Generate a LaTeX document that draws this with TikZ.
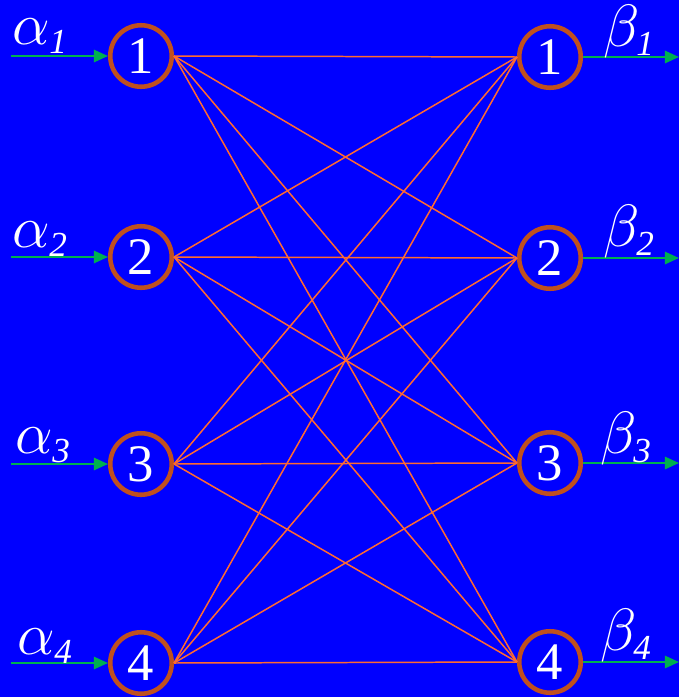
\documentclass[tikz,border=0pt]{standalone}
\usepackage{fix-cm}
\usepackage{fontspec}
\setmainfont{Liberation Serif}
\usetikzlibrary{arrows.meta, positioning}
\definecolor{bgBlue}{HTML}{0000FF}
\definecolor{ringBrown}{HTML}{C0501E}
\definecolor{wireOrange}{HTML}{FF6A30}
\definecolor{feedGreen}{HTML}{00B050}
\newcommand{\subdig}[1]{\mbox{\fontsize{20}{22}\selectfont\itshape #1}}
\tikzset{
  unit/.style  = {circle, draw=ringBrown, line width=2.6pt, minimum size=1.23cm,
                  inner sep=0pt, text=white, font=\rmfamily\fontsize{30}{32}\selectfont},
  wire/.style  = {wireOrange, line width=0.85pt},
  feed/.style  = {-{Triangle[length=8pt,width=7pt]}, feedGreen, line width=1.1pt},
  sym/.style   = {text=white, inner sep=0pt, font=\fontsize{34}{38}\selectfont},
}

\begin{document}
\begin{tikzpicture}[x=0.02cm, y=-0.02cm]
  \fill[bgBlue] (0,0) rectangle (679,697);
  \useasboundingbox (0,0) rectangle (679,697);
  \foreach \i/\yl/\yr in {1/56/57, 2/257/258, 3/464/463, 4/663/662} {
    \node[unit] (L\i) at (141,\yl) {\i};
    \node[unit] (R\i) at (550,\yr) {\i};
    \coordinate (in\i) at (11,\yl);
    \coordinate (out\i) at (679,\yr);
    \draw[feed] (in\i) -- (L\i.west);
    \draw[feed] (R\i.east) -- (out\i);
  }
  % every input feeds every output
  \foreach \i in {1,...,4}
    \foreach \j in {1,...,4}
      \draw[wire] (L\i.east) -- (R\j.west);
  % labels
  \foreach \i/\xa/\ya/\xb/\yb in {1/40/36/629/32, 2/40/239/629/232, 3/43/445/626/439, 4/45/646/626/636} {
    \node[sym] (a\i) at (\xa,\ya) {$\alpha_{\subdig{\i}}$};
    \node[sym] (b\i) at (\xb,\yb) {$\beta_{\subdig{\i}}$};
  }
\end{tikzpicture}
\end{document}
